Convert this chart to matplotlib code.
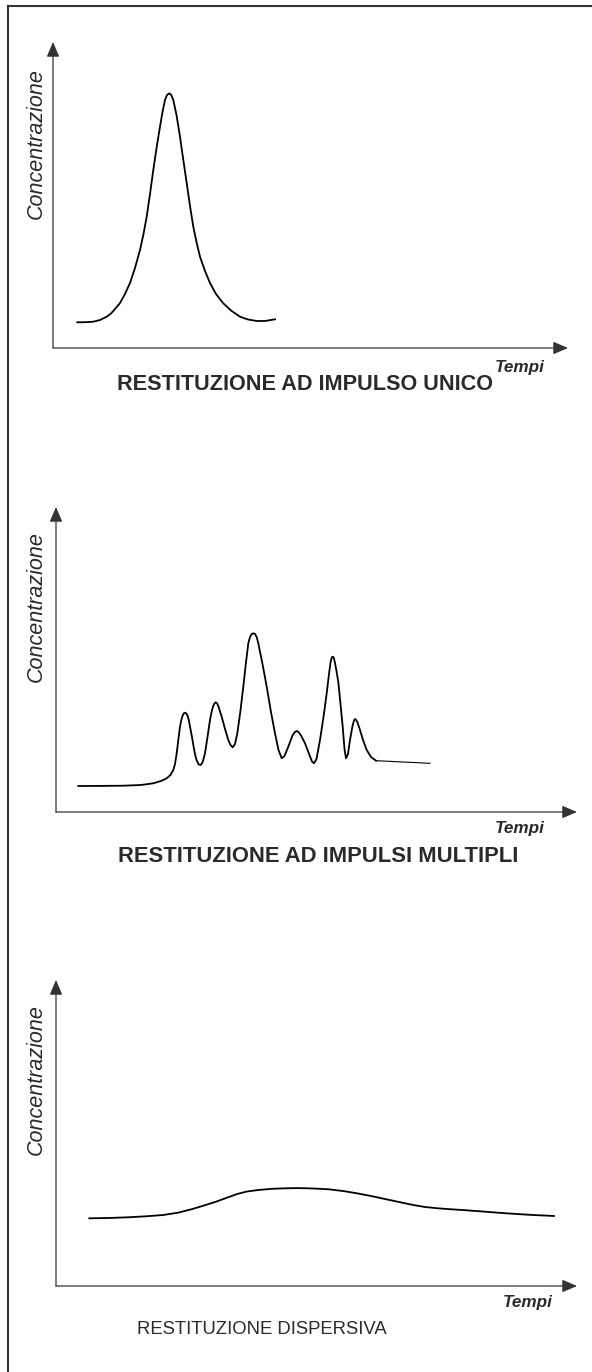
import matplotlib
matplotlib.use('Agg')
import matplotlib.pyplot as plt
from matplotlib.lines import Line2D

W, H = 592, 1372
plt.rcParams['font.family'] = ['Liberation Sans', 'DejaVu Sans']

# restituzione ad impulso unico
t_unico = [24.3, 32, 40.3, 47, 53.7, 58, 62, 67, 72, 77, 82, 87, 90.5, 93.7, 97, 100.3, 103.7, 107, 109.5, 112, 114,
           116.3, 118.3, 120.3, 123.5, 127, 130.3, 133.7, 137, 140.3, 143.7, 147, 152, 157, 163, 170, 178, 187, 195,
           203.7, 212, 222]
c_unico = [25.7, 25.8, 26.3, 28, 31.3, 34.5, 39, 45, 54, 65, 80, 98, 114, 131.3, 154, 178, 201, 221.3, 236, 248, 253,
           254.7, 253, 248, 233, 211.3, 188, 165, 142, 121.3, 105, 91.3, 77, 65, 54, 45, 37.5, 31.3, 28.5,
           27, 27, 28.7]

# restituzione ad impulsi multipli
t_multi = [22.3, 45, 67.3, 85, 97.3, 105, 110.7, 114.5, 117.3, 119, 120.7, 122.3, 124, 125.3, 126.5, 127.8, 129,
           130.2, 131.5, 132.8, 134, 135.8, 137.5, 139.2, 140.7, 142.7, 144.7, 146.7, 149, 151.5, 154, 155.6, 157,
           158.4, 159.7, 161, 162.5, 164, 165.7, 169, 172.3, 174.5, 176.7, 179, 181.3, 184.3, 187.3, 189.8, 192.3,
           194, 195.7, 197.3, 199, 200.7, 202.3, 206.5, 210.7, 214.8, 219, 222.5, 225.7, 228.5, 232.3, 236.5, 238.7,
           240.7, 242.7, 245, 249, 253.5, 256, 258, 260.5, 264, 267.5, 270.7, 273, 274.6, 275.7, 276.7, 277.7, 279,
           280.5, 282.3, 284.5, 286.7, 288.5, 290, 292, 294, 296.5, 298, 299, 300.2, 301.5, 304, 307, 310.7, 315, 320]
c_multi = [26, 26.1, 26.3, 27, 28.7, 31, 33.7, 37, 42, 48, 58.7, 72, 85.3, 92, 96, 98.7, 99.3,
           98.7, 96.5, 92, 85.3, 76, 66, 57, 51.5, 47.5, 47, 50, 58.7, 75, 92, 100, 105.5,
           108.5, 109.7, 108.8, 105.5, 100.5, 95.3, 83, 72, 67, 64.7, 68, 78.7, 100, 125.3, 148, 168.7,
           175, 178, 178.7, 178, 175, 168.7, 148, 125.3, 101, 78.7, 62, 53.7, 56, 65.3, 76.5, 79.8,
           81, 79.8, 76.5, 68.7, 57, 50.5, 48.7, 53, 72, 95, 118.7, 138, 150, 154.5, 155.3, 154.5, 149,
           141, 130, 108, 85.3, 63, 53.7, 58, 72, 86, 91.5, 93, 92, 89.5, 82, 72, 62, 55, 51.3]
t_coda = [320, 374]
c_coda = [51.3, 48.7]

# restituzione dispersiva
t_disp = [33.3, 52, 72, 90, 107.2, 122, 135.4, 148, 160, 171, 181.2, 191, 202.3, 216, 230.5, 241, 251.6, 262, 272.7,
          287, 300.9, 315, 329, 343, 357.2, 369, 381.9, 394, 406.5, 424, 441.7, 459, 477, 488, 498]
c_disp = [67.7, 68, 68.7, 69.7, 71, 73.3, 76.7, 80.5, 84.3, 88.3, 92, 94.5, 96, 97.2, 97.7, 97.9, 97.7, 97.3, 96.7,
          95, 92.7, 90, 87, 84, 81, 79, 77.7, 76.8, 76, 74.7, 73.3, 72.1, 71, 70.5, 70]

fig = plt.figure(figsize=(W / 100, H / 100), dpi=100)
fig.patch.set_facecolor('white')

ink = '#2a2a2a'


def fx(px):
    return px / W


def fy(py):
    return 1 - py / H


# bordo a sinistra e in alto
fig.add_artist(Line2D([fx(8), fx(592)], [fy(6), fy(6)], color='#333333', lw=1.5))
fig.add_artist(Line2D([fx(8), fx(8)], [fy(6), fy(1372)], color='#333333', lw=1.5))


def pannello(ox, oy, tipx, tipy):
    ax = fig.add_axes([fx(ox), fy(oy), (tipx - ox) / W, (oy - tipy) / H])
    ax.set_xlim(0, tipx - ox)
    ax.set_ylim(0, oy - tipy)
    ax.axis('off')
    freccia = dict(arrowstyle='-|>,head_length=0.75,head_width=0.32', lw=0.9, color='#333333',
                   mutation_scale=12, shrinkA=0, shrinkB=0)
    ax.annotate('', xy=(0, 1), xytext=(0, 0), xycoords='axes fraction', arrowprops=freccia,
                annotation_clip=False)
    ax.annotate('', xy=(1, 0), xytext=(0, 0), xycoords='axes fraction', arrowprops=freccia,
                annotation_clip=False)
    return ax


ax1 = pannello(53, 348, 568, 42)
ax1.plot(t_unico, c_unico, color='black', lw=1.3, solid_joinstyle='round')

ax2 = pannello(56, 812, 577, 507)
ax2.plot(t_multi, c_multi, color='black', lw=1.3, solid_joinstyle='round')
ax2.plot(t_coda, c_coda, color='black', lw=0.8)

ax3 = pannello(56, 1286, 577, 980)
ax3.plot(t_disp, c_disp, color='black', lw=1.3, solid_joinstyle='round')

# etichette
for ylab, tx, tit, tpos, tsize, tweight in [
        (144, (520, 368), 'RESTITUZIONE AD IMPULSO UNICO', (305, 384), 15.6, 'bold'),
        (607, (520, 828), 'RESTITUZIONE AD IMPULSI MULTIPLI', (318, 857), 15.8, 'bold'),
        (1080, (528, 1302), 'RESTITUZIONE DISPERSIVA', (262, 1330), 13.3, 'normal')]:
    fig.text(fx(36), fy(ylab), 'Concentrazione', rotation=90, style='italic', fontsize=15.5,
             ha='center', va='center', color=ink)
    fig.text(fx(tx[0]), fy(tx[1]), 'Tempi', style='italic', weight='bold', fontsize=12.3,
             ha='center', va='center', color=ink)
    fig.text(fx(tpos[0]), fy(tpos[1]), tit, fontsize=tsize, weight=tweight,
             ha='center', va='center', color=ink)

fig.savefig('out.png', dpi=100, facecolor='white')
